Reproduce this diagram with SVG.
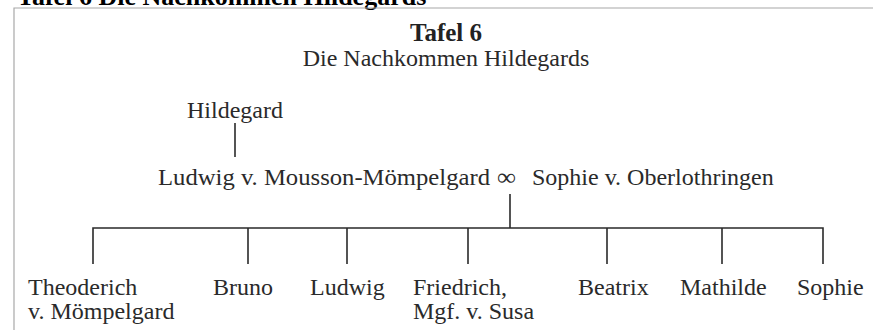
<svg xmlns="http://www.w3.org/2000/svg" width="873" height="330" viewBox="0 0 873 330">
  <style>
    text { font-family: "Liberation Serif", "Times New Roman", serif; fill: #2a2a2a; font-size: 24px; }
    .heading { font-weight: bold; font-size: 26px; fill: #000; }
    .tafel { font-weight: bold; font-size: 25px; fill: #222; }
    .center { text-anchor: middle; }
    .link { stroke: #2a2a2a; stroke-width: 1.6; fill: none; }
    .frame { stroke: #a8a8a8; stroke-width: 1.2; fill: none; }
  </style>
  <rect width="873" height="330" fill="#fff"/>

  <!-- page heading, cut by the top edge -->
  <text class="heading" x="17" y="5">Tafel 6 Die Nachkommen Hildegards</text>

  <!-- figure frame -->
  <path class="frame" d="M14 330 V8 H873"/>

  <!-- table caption -->
  <g id="caption">
    <text class="tafel center" x="446" y="41">Tafel 6</text>
    <text class="center" x="446" y="66" font-size="24.5">Die Nachkommen Hildegards</text>
  </g>

  <!-- ancestors -->
  <g id="hildegard"><text x="187" y="118">Hildegard</text></g>
  <g id="parents">
    <text x="158" y="185" textLength="332" lengthAdjust="spacingAndGlyphs">Ludwig v. Mousson-Mömpelgard</text>
    <text x="497" y="185" textLength="19" lengthAdjust="spacingAndGlyphs">∞</text>
    <text x="532" y="185">Sophie v. Oberlothringen</text>
  </g>

  <!-- children -->
  <g id="theoderich"><text x="28" y="295">Theoderich</text><text x="28" y="319">v. Mömpelgard</text></g>
  <g id="bruno"><text x="213" y="295">Bruno</text></g>
  <g id="ludwig"><text x="310" y="295">Ludwig</text></g>
  <g id="friedrich"><text x="413" y="295">Friedrich,</text><text x="413" y="319">Mgf. v. Susa</text></g>
  <g id="beatrix"><text x="578" y="295">Beatrix</text></g>
  <g id="mathilde"><text x="680" y="295">Mathilde</text></g>
  <g id="sophie"><text x="797" y="295">Sophie</text></g>

  <!-- descent lines -->
  <g id="connectors" class="link">
    <path d="M235 123 V157"/>
    <path d="M510 194 V228"/>
    <path d="M93 264 V228 H823 V264"/>
    <path d="M248 228 V264"/>
    <path d="M347 228 V264"/>
    <path d="M468 228 V264"/>
    <path d="M607 228 V264"/>
    <path d="M722 228 V264"/>
  </g>
</svg>
